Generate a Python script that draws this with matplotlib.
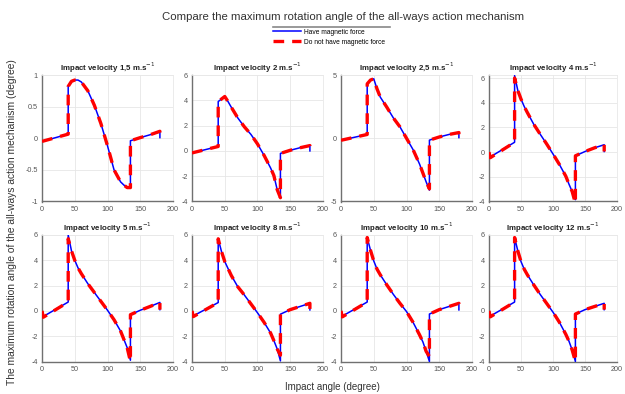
import matplotlib
matplotlib.use("Agg")
import matplotlib.pyplot as plt
from matplotlib.lines import Line2D
from matplotlib.ticker import FormatStrFormatter

plt.rcParams['font.family'] = ['Liberation Sans', 'DejaVu Sans']

# ---------------- data ----------------
ANGLE = [0, 40, 40, 45, 50, 55, 60, 70, 80, 90, 100, 110, 120, 125, 130, 135, 135, 150, 165, 180, 180]

TITLES = ["Impact velocity 1,5 m.s$^{-1}$", "Impact velocity 2 m.s$^{-1}$",
          "Impact velocity 2,5 m.s$^{-1}$", "Impact velocity 4 m.s$^{-1}$",
          "Impact velocity 5 m.s$^{-1}$", "Impact velocity 8 m.s$^{-1}$",
          "Impact velocity 10 m.s$^{-1}$", "Impact velocity 12 m.s$^{-1}$"]

V15_MAG = [-0.05, 0.065, 0.82, 0.90, 0.92, 0.92, 0.89, 0.75, 0.52, 0.23, -0.12, -0.50, -0.69, -0.74, -0.78, -0.78, -0.04, 0.01, 0.055, 0.10, 0.01]
V15_NOMAG = [-0.05, 0.065, 0.82, 0.90, 0.92, 0.92, 0.89, 0.75, 0.52, 0.23, -0.12, -0.50, -0.69, -0.74, -0.78, -0.78, -0.04, 0.01, 0.055, 0.11, 0.03]

V2_MAG = [-0.16, 0.35, 3.9, 4.1, 4.3, 3.9, 3.45, 2.6, 1.9, 1.3, 0.55, -0.35, -1.35, -1.95, -3.05, -3.7, -0.2, 0.05, 0.25, 0.42, 0.0]
V2_NOMAG = [-0.16, 0.35, 3.9, 4.1, 4.3, 3.9, 3.45, 2.6, 1.9, 1.3, 0.55, -0.35, -1.35, -1.95, -3.05, -3.7, -0.2, 0.05, 0.25, 0.42, 0.1]

V25_MAG = [-0.16, 0.3, 4.3, 4.6, 4.7, 3.9, 3.25, 2.45, 1.6, 0.9, 0.0, -0.9, -2.05, -2.75, -3.45, -4.1, -0.15, 0.1, 0.3, 0.45, 0.05]
V25_NOMAG = [-0.16, 0.3, 4.3, 4.6, 4.7, 3.9, 3.25, 2.45, 1.6, 0.9, 0.0, -0.9, -2.05, -2.75, -3.45, -4.0, -0.15, 0.1, 0.3, 0.45, 0.1]

V4_MAG = [-0.45, 0.8, 6.2, 5.0, 4.3, 3.7, 3.2, 2.25, 1.45, 0.67, -0.15, -1.0, -1.95, -2.6, -3.2, -3.85, -0.3, 0.05, 0.35, 0.6, 0.05]
V4_NOMAG = [0.0, 0.8, 6.0, 5.0, 4.3, 3.7, 3.2, 2.25, 1.45, 0.67, -0.15, -1.0, -1.95, -2.6, -3.2, -4.15, -0.3, 0.05, 0.35, 0.6, 0.05]

V5_MAG = [-0.5, 0.7, 6.0, 4.75, 4.0, 3.4, 2.95, 2.15, 1.45, 0.75, 0.05, -0.7, -1.6, -2.25, -2.9, -3.9, -0.3, 0.05, 0.35, 0.67, 0.1]
V5_NOMAG = [0.0, 0.7, 5.7, 4.75, 4.0, 3.4, 2.95, 2.15, 1.45, 0.75, 0.05, -0.7, -1.6, -2.25, -2.9, -4.0, -0.3, 0.05, 0.35, 0.67, 0.1]

V8_MAG = [-0.45, 0.66, 5.7, 4.7, 3.9, 3.35, 2.8, 1.9, 1.25, 0.55, -0.15, -0.9, -1.75, -2.35, -3.0, -3.95, -0.26, 0.1, 0.35, 0.6, 0.08]
V8_NOMAG = [0.0, 0.66, 5.7, 4.7, 3.9, 3.35, 2.8, 1.9, 1.25, 0.55, -0.15, -0.9, -1.75, -2.35, -3.0, -3.5, -0.26, 0.1, 0.35, 0.6, 0.1]

V10_MAG = [-0.47, 0.7, 5.8, 4.8, 3.95, 3.3, 2.85, 2.05, 1.3, 0.6, -0.05, -0.9, -1.9, -2.45, -3.2, -4.0, -0.25, 0.1, 0.35, 0.6, 0.08]
V10_NOMAG = [0.0, 0.7, 5.8, 4.8, 3.95, 3.3, 2.85, 2.05, 1.3, 0.6, -0.05, -0.9, -1.9, -2.45, -3.2, -3.6, -0.25, 0.1, 0.35, 0.6, 0.1]

V12_MAG = [-0.47, 0.7, 5.8, 4.75, 3.9, 3.3, 2.85, 2.05, 1.3, 0.6, -0.1, -0.9, -1.85, -2.4, -3.1, -4.0, -0.25, 0.1, 0.35, 0.6, 0.1]
V12_NOMAG = [0.0, 0.7, 5.8, 4.75, 3.9, 3.3, 2.85, 2.05, 1.3, 0.6, -0.1, -0.9, -1.85, -2.4, -3.1, -4.0, -0.25, 0.1, 0.35, 0.6, 0.1]

# red curves of 4-12 m/s start with a short drop from 0 to the blue start value
NOMAG_START_ANGLE = [0, 2]

MAG = [V15_MAG, V2_MAG, V25_MAG, V4_MAG, V5_MAG, V8_MAG, V10_MAG, V12_MAG]
NOMAG = [V15_NOMAG, V2_NOMAG, V25_NOMAG, V4_NOMAG, V5_NOMAG, V8_NOMAG, V10_NOMAG, V12_NOMAG]

YLIMS = [(-1, 1), (-4, 6), (-5, 5), (-4, 6.25), (-4, 6), (-4, 6), (-4, 6), (-4, 6)]
YTICKS = [[-1, -0.5, 0, 0.5, 1], [-4, -2, 0, 2, 4, 6], [-5, 0, 5], [-4, -2, 0, 2, 4, 6],
          [-4, -2, 0, 2, 4, 6], [-4, -2, 0, 2, 4, 6], [-4, -2, 0, 2, 4, 6], [-4, -2, 0, 2, 4, 6]]
XTICKS = [0, 50, 100, 150, 200]

LABEL_MAG = "Have magnetic force"
LABEL_NOMAG = "Do not have magnetic force"

# ---------------- figure ----------------
W, H = 625, 394
fig = plt.figure(figsize=(W / 100, H / 100), dpi=100)

lefts = [42, 192, 341, 489]
widths = [131, 131, 131, 128]
tops = [75, 235]
ah = 126.5

axes = []
for i in range(8):
    r, c = divmod(i, 4)
    ax = fig.add_axes([lefts[c] / W, 1 - (tops[r] + ah) / H, widths[c] / W, ah / H])
    axes.append(ax)
    hb, = ax.plot(ANGLE, MAG[i], color='#0000ff', lw=1.1, zorder=3)
    ys = NOMAG[i]
    if i >= 3:
        xr = [NOMAG_START_ANGLE[0], NOMAG_START_ANGLE[1]] + ANGLE[1:]
        yr = [ys[0], MAG[i][0]] + ys[1:]
    else:
        xr, yr = ANGLE, ys
    hr, = ax.plot(xr, yr, color='#ff0000', lw=2.4, dashes=(3.2, 2.4), zorder=4)
    if i == 0:
        handles = [hb, hr]
    ax.set_xlim(0, 200)
    ax.set_ylim(*YLIMS[i])
    ax.set_xticks(XTICKS)
    ax.set_yticks(YTICKS[i])
    ax.yaxis.set_major_formatter(FormatStrFormatter('%g'))
    ax.grid(True, color='#e6e6e6', lw=0.6)
    ax.set_axisbelow(True)
    ax.tick_params(labelsize=5.2, colors='#555555', length=0, pad=3)
    for s in ['top', 'right']:
        ax.spines[s].set_color('#e8e8e8')
        ax.spines[s].set_linewidth(0.6)
    for s in ['left', 'bottom']:
        ax.spines[s].set_color('#707070')
        ax.spines[s].set_linewidth(1.0)
    ax.set_title(TITLES[i], fontsize=5.7, fontweight='bold', color='#222222', pad=3)

fig.text(343 / W, 1 - 17 / H, "Compare the maximum rotation angle of the all-ways action mechanism",
         ha='center', va='center', fontsize=8.2, color='#333333')
fig.add_artist(Line2D([273 / W, 390 / W], [1 - 27 / H, 1 - 27 / H], transform=fig.transFigure,
                      color='#888888', lw=1.2))
fig.legend(handles, [LABEL_MAG, LABEL_NOMAG], loc='upper left',
           bbox_to_anchor=(273 / W, 1 - 28.5 / H), frameon=False, fontsize=4.8,
           handlelength=4.2, handletextpad=0.5, labelspacing=0.45,
           borderpad=0, borderaxespad=0)

fig.text(332 / W, 1 - 387 / H, "Impact angle (degree)", ha='center', va='center',
         fontsize=7, color='#333333')
fig.text(12 / W, 1 - 222 / H,
         "The maximum rotation angle of the all-ways action mechanism (degree)",
         ha='center', va='center', rotation=90, fontsize=7.4, color='#333333')

fig.savefig("out.png", dpi=100)
